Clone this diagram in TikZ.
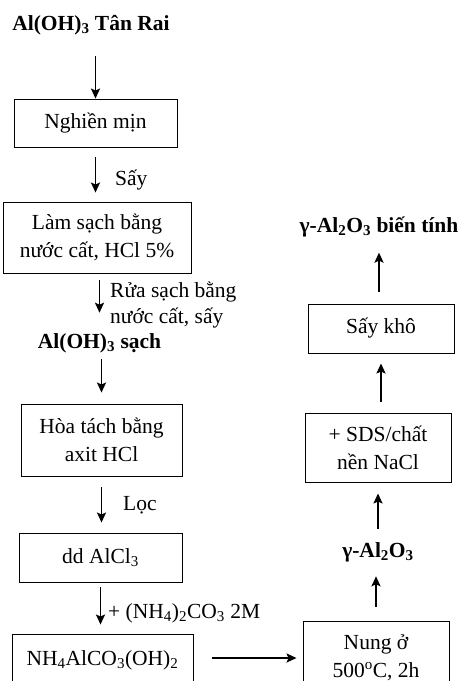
\documentclass[tikz,border=0pt]{standalone}
\usepackage{fontspec}
\setmainfont{Liberation Serif}
\usetikzlibrary{arrows.meta}
\newcommand{\sbs}[1]{\textsubscript{#1}}
\newcommand{\sps}[1]{\textsuperscript{#1}}
\tikzset{
  stepbox/.style={draw=black, line width=0.9pt, align=center, inner sep=0pt},
  flow/.style={-{Stealth[length=10pt,width=9pt,inset=2pt]}, line width=1.9pt},
  lbl/.style={anchor=west, align=left, inner sep=0pt},
}
\begin{document}
\begin{tikzpicture}[x=1pt, y=-1pt, font=\fontsize{21.5}{28}\selectfont]
    \useasboundingbox (0,0) rectangle (459,681);
    \clip (0,0) rectangle (459,681);
    % left column
    \node[font=\fontsize{21.5}{28}\selectfont\bfseries] (raw) at (91,25) {Al(OH)\sbs{3} Tân Rai};
    \node[stepbox, minimum width=163, minimum height=48] (nghien) at (95.5,123) {Nghiền mịn};
    \node[stepbox, minimum width=188, minimum height=71] (lamsach) at (97,237.5) {Làm sạch bằng\\nước cất, HCl 5\%};
    \node[font=\fontsize{21.5}{28}\selectfont\bfseries] (clean) at (99.5,343) {Al(OH)\sbs{3} sạch};
    \node[stepbox, minimum width=161, minimum height=72] (hoatach) at (101.5,440) {Hòa tách bằng\\axit HCl};
    \node[stepbox, minimum width=163, minimum height=49] (alcl) at (100.5,557.5) {dd AlCl\sbs{3}};
    \node[stepbox, minimum width=181, minimum height=52] (nh4) at (102.5,660) {NH\sbs{4}AlCO\sbs{3}(OH)\sbs{2}};
    % right column
    \node[stepbox, minimum width=146, minimum height=73] (nung) at (376,657.5) {Nung ở\\500\sps{o}C, 2h};
    \node[font=\fontsize{21.5}{28}\selectfont\bfseries] (gamma) at (378,552) {γ-Al\sbs{2}O\sbs{3}};
    \node[stepbox, minimum width=146, minimum height=69] (sds) at (378,447.5) {+ SDS/chất\\nền NaCl};
    \node[stepbox, minimum width=146, minimum height=49] (saykho) at (381,328.5) {Sấy khô};
    \node[font=\fontsize{21.5}{28}\selectfont\bfseries] (final) at (379,227) {γ-Al\sbs{2}O\sbs{3} biến tính};
    % arrows down
    \draw[flow, shorten <=18pt] (raw.south -| nghien.north) -- (nghien.north);
    \draw[flow, shorten <=10pt, shorten >=9pt] (nghien.south) -- (nghien.south |- lamsach.north);
    \draw[flow, shorten <=7pt, shorten >=17pt] (clean.north |- lamsach.south) -- (clean.north);
    \draw[flow, shorten <=3pt, shorten >=11pt] (clean.south -| hoatach.north) -- (hoatach.north);
    \draw[flow, shorten <=11pt, shorten >=10pt] (hoatach.south) -- (hoatach.south |- alcl.north);
    \draw[flow, shorten <=5pt, shorten >=9pt] (alcl.south) -- (alcl.south |- nh4.north);
    \draw[flow, shorten <=19pt, shorten >=6pt] (nh4.east |- 0,658) -- (nung.west |- 0,658);
    % arrows up
    \draw[flow, shorten <=14pt, shorten >=11pt] (nung.north) -- (nung.north |- gamma.south);
    \draw[flow, shorten <=10pt, shorten >=11pt] (gamma.north) -- (gamma.north |- sds.south);
    \draw[flow, shorten <=11pt, shorten >=10pt] (sds.north -| saykho.south) -- (saykho.south);
    \draw[flow, shorten <=12pt, shorten >=12pt] (saykho.north -| final.south) -- (final.south);
    % labels
    \node[lbl] (say) at (115,180) {Sấy};
    \node[lbl, font=\fontsize{21.5}{26}\selectfont] (rua) at (110,305) {Rửa sạch bằng\\nước cất, sấy};
    \node[lbl] (loc) at (123,505) {Lọc};
    \node[lbl] (amoni) at (108,613) {+ (NH\sbs{4})\sbs{2}CO\sbs{3} 2M};
\end{tikzpicture}
\end{document}
